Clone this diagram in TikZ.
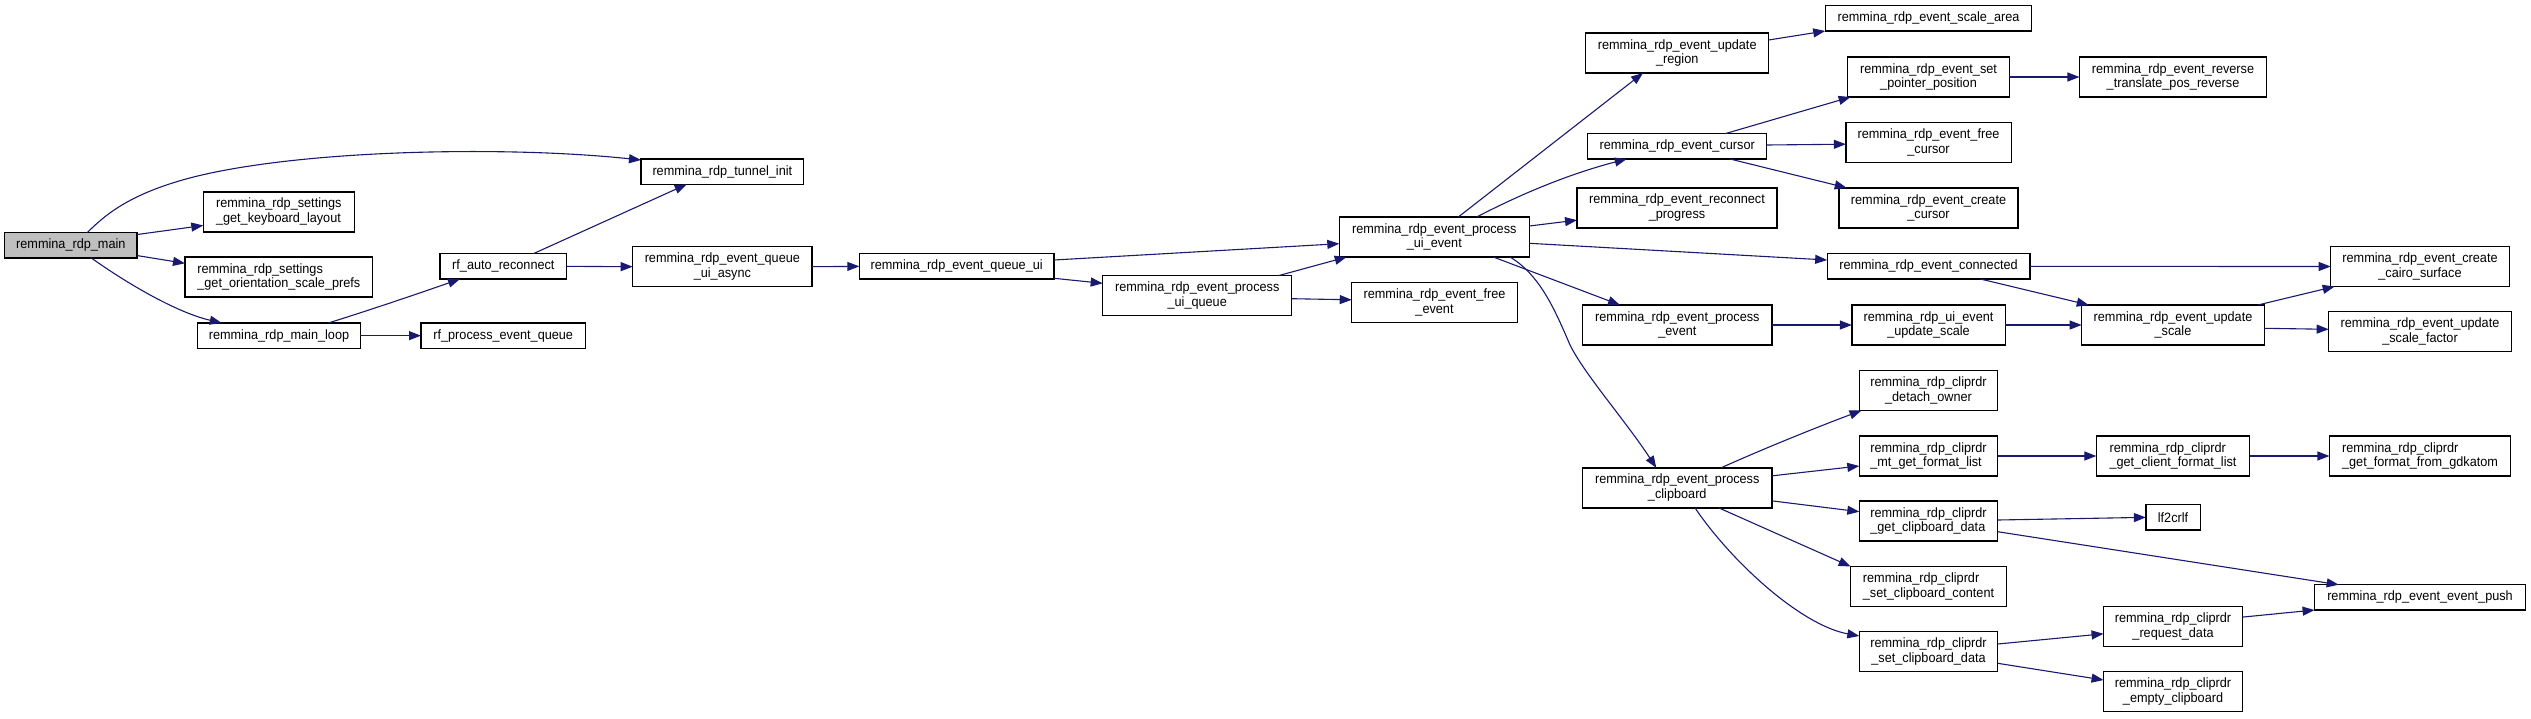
\documentclass[tikz,border=0pt]{standalone}
\usepackage{fontspec}
\setmainfont{Liberation Sans}[FakeStretch=0.94]
\usetikzlibrary{arrows.meta}
\definecolor{edgeblue}{HTML}{191970}
\definecolor{mainfill}{HTML}{BFBFBF}
\tikzset{
 fnode/.style={draw=black, line width=1.3pt, rectangle, inner sep=0pt, outer sep=0pt,
   minimum height=25.3pt, font=\fontsize{13.5}{14.8}\selectfont, align=center, text=black},
 dbl/.style={minimum height=40pt},
 lft/.style={align=left},
 call/.style={draw=edgeblue, line width=1.1pt, -{Triangle[length=12pt,width=9pt]}},
}
\begin{document}
\begin{tikzpicture}[x=1pt,y=-1pt]
\useasboundingbox (0,0) rectangle (2531,718);
% column 0-2
\node[fnode, fill=mainfill, minimum width=132.3pt] (main) at (70.85,245.2) {remmina\_rdp\_main};
\node[fnode, dbl, lft, minimum width=151pt] (kbd) at (278.8,211.85) {remmina\_rdp\_settings\\\_get\_keyboard\_layout};
\node[fnode, dbl, lft, minimum width=187.7pt] (orient) at (278.85,277) {remmina\_rdp\_settings\\\_get\_orientation\_scale\_prefs};
\node[fnode, minimum width=162.6pt] (loop) at (279,335.65) {remmina\_rdp\_main\_loop};
\node[fnode, minimum width=126.7pt] (recon) at (503.35,266.35) {rf\_auto\_reconnect};
\node[fnode, minimum width=164.4pt] (rfq) at (503.2,335.65) {rf\_process\_event\_queue};
% column 3-6
\node[fnode, minimum width=162.7pt] (tunnel) at (722.35,171.65) {remmina\_rdp\_tunnel\_init};
\node[fnode, dbl, minimum width=179.3pt] (qasync) at (722.35,266.7) {remmina\_rdp\_event\_queue\\\_ui\_async};
\node[fnode, minimum width=194.7pt] (qui) at (956.65,266.35) {remmina\_rdp\_event\_queue\_ui};
\node[fnode, dbl, minimum width=189pt] (puiq) at (1197.2,295.7) {remmina\_rdp\_event\_process\\\_ui\_queue};
\node[fnode, dbl, minimum width=190pt] (puie) at (1434.3,237) {remmina\_rdp\_event\_process\\\_ui\_event};
\node[fnode, dbl, minimum width=165.6pt] (freeev) at (1434.5,302.5) {remmina\_rdp\_event\_free\\\_event};
% column 7
\node[fnode, dbl, minimum width=183pt] (updreg) at (1677.2,53) {remmina\_rdp\_event\_update\\\_region};
\node[fnode, minimum width=179pt] (cursor) at (1677.2,146.35) {remmina\_rdp\_event\_cursor};
\node[fnode, dbl, minimum width=200pt] (reconprog) at (1677,207.85) {remmina\_rdp\_event\_reconnect\\\_progress};
\node[fnode, dbl, minimum width=189.3pt] (procev) at (1677.35,325) {remmina\_rdp\_event\_process\\\_event};
\node[fnode, dbl, minimum width=189.3pt] (clip) at (1677.25,487.85) {remmina\_rdp\_event\_process\\\_clipboard};
% column 8
\node[fnode, minimum width=206.6pt] (scalearea) at (1928.5,18.35) {remmina\_rdp\_event\_scale\_area};
\node[fnode, dbl, minimum width=161.7pt] (setptr) at (1928.5,77) {remmina\_rdp\_event\_set\\\_pointer\_position};
\node[fnode, dbl, minimum width=165.3pt] (freecur) at (1928.5,142.5) {remmina\_rdp\_event\_free\\\_cursor};
\node[fnode, dbl, minimum width=179pt] (createcur) at (1928.5,207.85) {remmina\_rdp\_event\_create\\\_cursor};
\node[fnode, minimum width=202.7pt] (connected) at (1928.5,266.35) {remmina\_rdp\_event\_connected};
\node[fnode, dbl, minimum width=153.3pt] (uiupd) at (1928.5,325) {remmina\_rdp\_ui\_event\\\_update\_scale};
\node[fnode, dbl, minimum width=138.4pt] (detach) at (1928.5,390.5) {remmina\_rdp\_cliprdr\\\_detach\_owner};
\node[fnode, dbl, lft, minimum width=138.4pt] (mtfmt) at (1928.5,456) {remmina\_rdp\_cliprdr\\\_mt\_get\_format\_list};
\node[fnode, dbl, lft, minimum width=138.4pt] (getclip) at (1928.5,521) {remmina\_rdp\_cliprdr\\\_get\_clipboard\_data};
\node[fnode, dbl, lft, minimum width=155.7pt] (setcont) at (1928.5,586.5) {remmina\_rdp\_cliprdr\\\_set\_clipboard\_content};
\node[fnode, dbl, minimum width=138.4pt] (setclip) at (1928.5,651.7) {remmina\_rdp\_cliprdr\\\_set\_clipboard\_data};
% column 9
\node[fnode, dbl, minimum width=187.1pt] (reverse) at (2173,77) {remmina\_rdp\_event\_reverse\\\_translate\_pos\_reverse};
\node[fnode, dbl, minimum width=182.7pt] (updscale) at (2173,325) {remmina\_rdp\_event\_update\\\_scale};
\node[fnode, dbl, lft, minimum width=153.3pt] (clientfmt) at (2173,456) {remmina\_rdp\_cliprdr\\\_get\_client\_format\_list};
\node[fnode, minimum width=54.3pt] (lf2crlf) at (2173,517.35) {lf2crlf};
\node[fnode, dbl, minimum width=138.9pt] (request) at (2173,626.5) {remmina\_rdp\_cliprdr\\\_request\_data};
\node[fnode, dbl, minimum width=138.9pt] (empty) at (2173,691.7) {remmina\_rdp\_cliprdr\\\_empty\_clipboard};
% column 10
\node[fnode, dbl, minimum width=178.7pt] (cairo) at (2420,266.5) {remmina\_rdp\_event\_create\\\_cairo\_surface};
\node[fnode, dbl, minimum width=182.7pt] (factor) at (2420,331.7) {remmina\_rdp\_event\_update\\\_scale\_factor};
\node[fnode, dbl, lft, minimum width=181.1pt] (gdkatom) at (2420,456) {remmina\_rdp\_cliprdr\\\_get\_format\_from\_gdkatom};
\node[fnode, minimum width=210.9pt] (push) at (2420,597.35) {remmina\_rdp\_event\_event\_push};
% edges
\draw[call] ([shift={(82.6,0)}]main.north west) .. controls (105,215) and (126.7,197) .. (176.7,181.7) .. controls (280,150) and (500,145) .. ([shift={(0,1)}]tunnel.north west);
\draw[call] ([shift={(132.3,2)}]main.north west) -- ([shift={(0,33.6)}]kbd.north west);
\draw[call] ([shift={(132.3,23)}]main.north west) -- ([shift={(0,6.3)}]orient.north west);
\draw[call] ([shift={(86,25)}]main.north west) .. controls (125,282) and (175,312) .. ([shift={(24,0)}]loop.north west);
\draw[call] ([shift={(130.6,0)}]loop.north west) .. controls (370,310) and (420,293) .. ([shift={(20,25.3)}]recon.north west);
\draw[call] (loop.east) -- (rfq.west);
\draw[call] ([shift={(93.3,0)}]recon.north west) -- ([shift={(45.7,25.3)}]tunnel.north west);
\draw[call] (recon.east) -- (qasync.west);
\draw[call] (qasync.east) -- (qui.west);
\draw[call] ([shift={(194.7,6.3)}]qui.north west) -- ([shift={(0,26.7)}]puie.north west);
\draw[call] ([shift={(194.7,24.6)}]qui.north west) -- ([shift={(0,7.6)}]puiq.north west);
\draw[call] ([shift={(175.6,0)}]puiq.north west) -- ([shift={(7.4,40)}]puie.north west);
\draw[call] ([shift={(189,23)}]puiq.north west) -- ([shift={(0,17.3)}]freeev.north west);
\draw[call] ([shift={(119,0)}]puie.north west) -- ([shift={(57.3,40)}]updreg.north west);
\draw[call] ([shift={(137.4,0)}]puie.north west) .. controls (1515,197) and (1565,175) .. ([shift={(39,25.3)}]cursor.north west);
\draw[call] ([shift={(190,9)}]puie.north west) -- ([shift={(0,32.3)}]reconprog.north west);
\draw[call] ([shift={(190,26.3)}]puie.north west) -- ([shift={(0,6.3)}]connected.north west);
\draw[call] ([shift={(154,40)}]puie.north west) -- ([shift={(37.3,0)}]procev.north west);
\draw[call] ([shift={(170.7,40)}]puie.north west) .. controls (1540,275) and (1555,310) .. (1570,345) .. controls (1585,375) and (1625,420) .. ([shift={(73.7,0)}]clip.north west);
\draw[call] ([shift={(183,7)}]updreg.north west) -- (scalearea.south west);
\draw[call] ([shift={(137.3,0)}]cursor.north west) -- ([shift={(3,40)}]setptr.north west);
\draw[call] ([shift={(179,11.3)}]cursor.north west) -- ([shift={(0,21.7)}]freecur.north west);
\draw[call] ([shift={(142.3,25.3)}]cursor.north west) -- ([shift={(7.7,0)}]createcur.north west);
\draw[call] (procev.east) -- (uiupd.west);
\draw[call] (setptr.east) -- (reverse.west);
\draw[call] (connected.east) -- (cairo.west);
\draw[call] ([shift={(153.2,25.3)}]connected.north west) -- ([shift={(7.1,0)}]updscale.north west);
\draw[call] (uiupd.east) -- (updscale.west);
\draw[call] ([shift={(176.2,0)}]updscale.north west) -- ([shift={(4,40)}]cairo.north west);
\draw[call] ([shift={(182.7,23.3)}]updscale.north west) -- ([shift={(0,17.6)}]factor.north west);
\draw[call] ([shift={(138.4,0)}]clip.north west) .. controls (1765,448) and (1820,426) .. ([shift={(2.2,40)}]detach.north west);
\draw[call] ([shift={(189.3,8)}]clip.north west) -- ([shift={(0,30)}]mtfmt.north west);
\draw[call] ([shift={(189.3,33)}]clip.north west) -- ([shift={(0,10.7)}]getclip.north west);
\draw[call] ([shift={(136.15,40)}]clip.north west) -- (setcont.north west);
\draw[call] ([shift={(112.4,40)}]clip.north west) .. controls (1730,560) and (1800,625) .. ([shift={(0,4.3)}]setclip.north west);
\draw[call] (mtfmt.east) -- (clientfmt.west);
\draw[call] (clientfmt.east) -- (gdkatom.west);
\draw[call] ([shift={(138.4,19)}]getclip.north west) -- (lf2crlf.west);
\draw[call] ([shift={(138.4,30.7)}]getclip.north west) -- ([shift={(24.1,0)}]push.north west);
\draw[call] ([shift={(138.9,10.6)}]request.north west) -- (push.south west);
\draw[call] ([shift={(138.4,12.3)}]setclip.north west) -- ([shift={(0,27.3)}]request.north west);
\draw[call] ([shift={(138.4,31.6)}]setclip.north west) -- ([shift={(0,8.3)}]empty.north west);
\end{tikzpicture}
\end{document}
